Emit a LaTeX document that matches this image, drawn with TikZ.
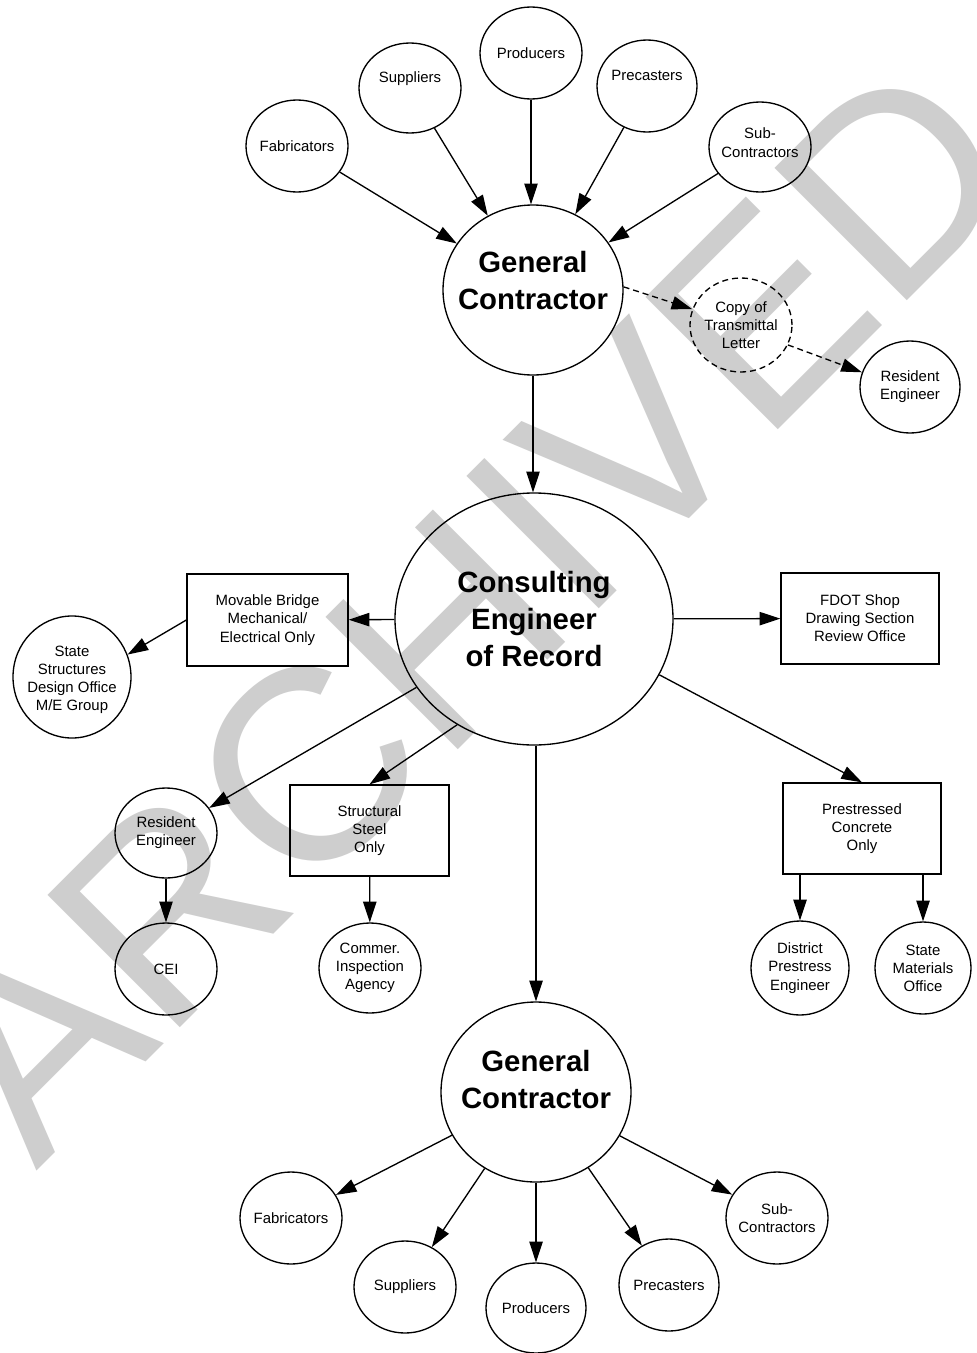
\documentclass[tikz,border=0pt]{standalone}
\usepackage{fontspec}
\setmainfont{Liberation Sans}
\usetikzlibrary{shapes.geometric,arrows.meta}
\definecolor{wmgray}{RGB}{206,206,206}
\newcommand{\smallf}{\fontsize{11.2}{13.6}\selectfont}
\newcommand{\bigf}{\fontsize{22}{27.5}\selectfont\bfseries}
\newcommand{\wmf}{\fontsize{204}{204}\selectfont}
\newcommand{\uptext}[2]{\raisebox{#1}[\height][\depth]{\begin{tabular}{@{}c@{}}#2\end{tabular}}}
\begin{document}
\begin{tikzpicture}[x=0.75pt,y=-0.75pt,
  el/.style 2 args={ellipse,draw,line width=1pt,inner xsep=-10pt,inner ysep=0pt,
     align=center,font=\smallf,minimum width=#1,minimum height=#2},
  bigel/.style 2 args={el={#1}{#2},font=\bigf},
  bx/.style 2 args={rectangle,draw,line width=1pt,inner sep=0pt,align=center,
     font=\smallf,minimum width=#1,minimum height=#2},
  arr/.style={line width=1pt,-{Triangle[length=15.5pt,width=10pt]}},
  darr/.style={arr,dash pattern=on 4.5pt off 3pt},
  wmk/.style={text=wmgray,font=\wmf,inner sep=0pt,anchor=base west,rotate=45}
]
\useasboundingbox (0,0) rectangle (976,1353);
\fill[white] (0,0) rectangle (976,1353);
% watermark
\node[wmk] (wm) at (36,1172) {ARCHIVED};

% top group
\node[el={76.5pt}{69pt}] (fab1) at (297,146) {Fabricators};
\node[el={76.5pt}{67.5pt}] (sup1) at (410,88) {\uptext{7pt}{Suppliers}};
\node[el={76.5pt}{69pt}] (pro1) at (531,53) {Producers};
\node[el={75pt}{69pt}] (pre1) at (647,86) {\uptext{7pt}{Precasters}};
\node[el={76.5pt}{67.5pt}] (sub1) at (760,147) {\uptext{2pt}{Sub-\\Contractors}};
\node[bigel={135pt}{127.5pt}] (gc1) at (533,290) {\uptext{5pt}{General\\Contractor}};
\node[el={76.5pt}{70.5pt},dash pattern=on 4.5pt off 3pt] (copy) at (741,325) {Copy of\\Transmittal\\Letter};
\node[el={75pt}{69pt}] (re1) at (910,387) {Resident\\Engineer};

% middle
\node[bigel={208.5pt}{189pt}] (cer) at (534,619) {Consulting\\Engineer\\of Record};
\node[bx={120.75pt}{69pt}] (mb) at (267.5,620) {Movable Bridge\\Mechanical/\\Electrical Only};
\node[el={88.5pt}{91.5pt}] (ssd) at (72,677) {\uptext{-2pt}{State\\Structures\\Design Office\\M/E Group}};
\node[bx={118.5pt}{68.25pt}] (fdot) at (860,618.5) {FDOT Shop\\Drawing Section\\Review Office};
\node[el={76.5pt}{67.5pt}] (re2) at (166,833) {Resident\\Engineer};
\node[bx={119.25pt}{68.25pt}] (stl) at (369.5,830.5) {Structural\\Steel\\Only};
\node[el={76.5pt}{69pt}] (cei) at (166,969) {CEI};
\node[el={76.5pt}{67.5pt}] (com) at (370,968) {Commer.\\Inspection\\Agency};
\node[bx={118.5pt}{68.25pt}] (psc) at (862,828.5) {Prestressed\\Concrete\\Only};
\node[el={73.5pt}{70.5pt}] (dpe) at (800,968) {District\\Prestress\\Engineer};
\node[el={72pt}{69pt}] (smo) at (923,968) {State\\Materials\\Office};

% bottom group
\node[bigel={142.5pt}{135pt}] (gc2) at (536,1092) {\uptext{7pt}{General\\Contractor}};
\node[el={76.5pt}{69pt}] (fab2) at (291,1218) {Fabricators};
\node[el={76.5pt}{69pt}] (sup2) at (405,1287) {Suppliers};
\node[el={75pt}{67.5pt}] (pro2) at (536,1308) {Producers};
\node[el={75pt}{69pt}] (pre2) at (669,1285) {Precasters};
\node[el={76.5pt}{69pt}] (sub2) at (777,1218) {Sub-\\Contractors};

% connectors top
\draw[arr] (fab1) -- (gc1);
\draw[arr] (sup1) -- (gc1);
\draw[arr] (pro1) -- (pro1 |- gc1.north);
\draw[arr] (pre1) -- (gc1);
\draw[arr] (sub1) -- (gc1);
\draw[darr] (gc1.2) -- (copy.162);
\draw[darr] (copy.337) -- (re1.163);
\draw[arr] (gc1.south) -- (gc1.south |- cer.north);

% connectors middle
\draw[arr] (cer) -- (mb);
\draw[arr] (mb.west) -- (ssd.22);
\draw[arr] (cer) -- (fdot);
\draw[arr] (cer) -- (re2);
\draw[arr] (cer.234) -- (stl.north);
\draw[arr] (cer.336) -- (psc.north);
\draw[arr] (re2) -- (cei);
\draw[arr] (stl) -- (com);
\draw[arr] (psc.south -| dpe) -- (dpe);
\draw[arr] (psc.south -| smo) -- (smo);
\draw[arr] (cer.south -| gc2) -- (gc2.north);

% connectors bottom
\draw[arr] (gc2) -- (fab2);
\draw[arr] (gc2) -- (sup2);
\draw[arr] (gc2) -- (pro2);
\draw[arr] (gc2) -- (pre2);
\draw[arr] (gc2) -- (sub2);
\end{tikzpicture}
\end{document}
